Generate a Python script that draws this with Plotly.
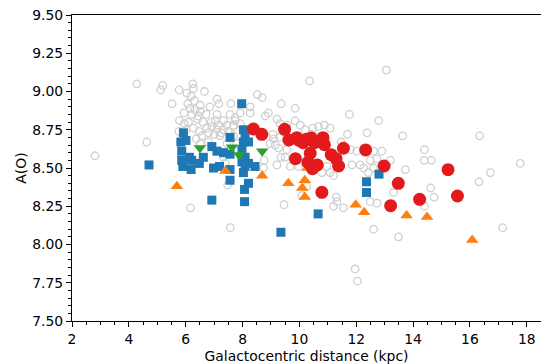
import plotly.graph_objects as go

# ---- data ----
gray_x = [4.28, 5.19, 5.12, 5.77, 6.25, 6.27, 6.04, 6.66, 6.19, 6.31, 6.07, 5.52, 7.10, 7.17, 7.59,
          6.51, 6.15, 6.33, 5.94, 6.21, 6.51, 6.72, 7.10, 7.56, 5.78, 6.10, 6.41, 7.05, 7.33, 7.74,
          5.76, 6.01, 6.27, 6.48, 6.74, 6.92, 7.15, 7.45, 7.68, 6.37, 6.57, 6.80, 7.10, 7.33, 7.21,
          7.68, 4.63, 2.81, 7.48, 6.17, 7.57, 6.51, 6.80, 7.45, 7.80, 7.33, 7.39,
          10.36, 13.06, 8.52, 8.69, 9.36, 9.85, 8.27, 8.27, 7.92, 7.74, 7.92, 7.68, 8.91, 8.80,
          9.21, 9.32, 9.56, 9.85, 10.03, 10.20, 10.48, 10.67, 10.88, 11.08, 10.44, 9.07, 9.09, 9.32,
          8.97, 9.15, 9.26, 9.56, 9.50, 9.35, 9.21, 9.68, 9.97, 8.76, 8.74, 11.76, 11.69, 12.38,
          12.79, 13.63, 11.47, 11.79, 12.02, 12.61, 12.90, 13.20, 12.73, 12.49, 12.14, 11.85, 12.26,
          12.61, 12.43, 13.73, 10.97, 11.08, 11.20, 10.79, 10.26, 10.09, 11.30, 11.32, 11.20, 9.46,
          12.49, 12.73, 13.31, 12.61, 13.49, 11.55, 16.34, 14.40, 14.39, 14.64, 17.77, 16.72, 16.32,
          14.62, 14.74, 14.40, 17.15, 11.96, 12.04,
          6.90, 7.00, 7.25, 6.60, 6.85, 7.50, 5.95, 6.45]
gray_y = [9.05, 9.04, 9.01, 9.01, 9.05, 9.02, 8.99, 9.00, 8.97, 8.94, 8.92, 8.92, 8.95, 8.92, 8.92,
          8.91, 8.89, 8.88, 8.86, 8.85, 8.87, 8.85, 8.85, 8.85, 8.81, 8.80, 8.82, 8.81, 8.81, 8.81,
          8.74, 8.75, 8.76, 8.74, 8.76, 8.77, 8.78, 8.78, 8.77, 8.69, 8.71, 8.73, 8.75, 8.75, 8.71,
          8.71, 8.67, 8.58, 8.39, 8.24, 8.11, 8.66, 8.67, 8.66, 8.66, 8.57, 8.53,
          9.07, 9.14, 8.98, 8.96, 8.92, 8.89, 8.90, 8.86, 8.86, 8.83, 8.79, 8.78, 8.86, 8.84,
          8.82, 8.79, 8.78, 8.81, 8.78, 8.75, 8.76, 8.77, 8.78, 8.76, 8.72, 8.72, 8.69, 8.70,
          8.66, 8.65, 8.63, 8.62, 8.57, 8.57, 8.52, 8.51, 8.51, 8.55, 8.50, 8.85, 8.72, 8.73,
          8.81, 8.71, 8.67, 8.62, 8.61, 8.61, 8.61, 8.55, 8.56, 8.55, 8.52, 8.52, 8.50,
          8.50, 8.47, 8.49, 8.51, 8.47, 8.45, 8.47, 8.38, 8.32, 8.31, 8.28, 8.25, 8.26,
          8.28, 8.27, 8.34, 8.10, 8.05, 8.24, 8.71, 8.62, 8.55, 8.55, 8.53, 8.47, 8.41,
          8.37, 8.31, 8.25, 8.11, 7.84, 7.76,
          8.80, 8.72, 8.73, 8.80, 8.90, 8.74, 8.79, 8.84]

blue_x = [5.92, 5.83, 6.01, 6.92, 7.10, 5.86, 6.13, 6.21, 6.62, 6.48, 5.90, 5.86, 6.19, 6.98, 7.19,
          7.56, 7.56, 7.56, 7.33, 7.97, 7.56, 6.92, 4.71, 8.21, 8.07, 8.07, 8.03, 8.09, 8.03, 8.21,
          7.98, 8.09, 7.98, 8.09, 8.21, 8.03, 8.44, 9.35, 10.66, 12.36, 12.36, 12.80]
blue_y = [8.73, 8.67, 8.68, 8.64, 8.61, 8.61, 8.57, 8.55, 8.57, 8.53, 8.51, 8.55, 8.49, 8.50, 8.51,
          8.49, 8.70, 8.59, 8.60, 8.92, 8.42, 8.29, 8.52, 8.40, 8.36, 8.28, 8.75, 8.72, 8.67, 8.67,
          8.62, 8.57, 8.54, 8.51, 8.53, 8.47, 8.51, 8.08, 8.20, 8.41, 8.34, 8.46]

green_x = [6.50, 7.63, 7.88, 8.69]
green_y = [8.63, 8.635, 8.585, 8.61]

orange_x = [5.69, 7.39, 8.69, 9.61, 10.29, 10.19, 10.10, 10.19, 11.98, 12.28, 13.77, 14.49, 16.08]
orange_y = [8.38, 8.48, 8.45, 8.40, 8.50, 8.42, 8.37, 8.31, 8.26, 8.21, 8.19, 8.18, 8.03]

red_x = [8.38, 8.68, 9.48, 9.63, 9.91, 9.99, 10.13, 10.25, 10.42, 10.38, 10.53, 10.83, 10.88, 9.86,
         10.30, 10.63, 10.46, 11.12, 11.29, 11.55, 11.38, 12.33, 12.98, 10.79, 13.48, 13.21, 15.23,
         14.23, 15.56]
red_y = [8.755, 8.72, 8.753, 8.683, 8.698, 8.681, 8.665, 8.688, 8.696, 8.596, 8.665, 8.698, 8.652,
         8.561, 8.537, 8.52, 8.495, 8.587, 8.561, 8.629, 8.513, 8.618, 8.513, 8.341, 8.40, 8.254,
         8.489, 8.295, 8.317]

x_ticks = [2, 4, 6, 8, 10, 12, 14, 16, 18]
y_ticks = [7.50, 7.75, 8.00, 8.25, 8.50, 8.75, 9.00, 9.25, 9.50]

FONT = "DejaVu Sans"
fig = go.Figure()
fig.add_trace(go.Scatter(x=gray_x, y=gray_y, mode="markers",
                         marker=dict(symbol="circle-open", size=7.5, color="#cfcfcf",
                                     line=dict(width=1.3, color="#cfcfcf"))))
fig.add_trace(go.Scatter(x=blue_x, y=blue_y, mode="markers",
                         marker=dict(symbol="square", size=9, color="#1f77b4", line=dict(width=0))))
fig.add_trace(go.Scatter(x=green_x, y=green_y, mode="markers",
                         marker=dict(symbol="triangle-down", size=11, color="#2ca02c", line=dict(width=0))))
fig.add_trace(go.Scatter(x=orange_x, y=orange_y, mode="markers",
                         marker=dict(symbol="triangle-up", size=11, color="#ff7f0e", line=dict(width=0))))
fig.add_trace(go.Scatter(x=red_x, y=red_y, mode="markers",
                         marker=dict(symbol="circle", size=13, color="#e31a1c", line=dict(width=0))))

axis_common = dict(showgrid=False, zeroline=False, showline=True, linecolor="black", linewidth=1.1,
                   ticks="outside", ticklen=5, tickwidth=1.1, tickcolor="black",
                   tickfont=dict(family=FONT, size=13.9, color="black"))
fig.update_xaxes(range=[2, 18.5], tickvals=x_ticks, ticktext=[str(v) for v in x_ticks],
                 mirror=True,
                 minor=dict(ticks="outside", dtick=0.5, ticklen=3, tickwidth=0.9, tickcolor="black"),
                 title=dict(text="Galactocentric distance (kpc)", font=dict(family=FONT, size=13.9, color="black"),
                            standoff=5),
                 **axis_common)
fig.update_yaxes(range=[7.5, 9.5], tickvals=y_ticks, ticktext=[f"{v:.2f}" for v in y_ticks],
                 minor=dict(ticks="outside", dtick=0.05, ticklen=3, tickwidth=0.9, tickcolor="black"),
                 title=dict(text="A(O)", font=dict(family=FONT, size=13.9, color="black"), standoff=2),
                 **axis_common)
fig.update_layout(width=541, height=364, margin=dict(l=72, r=0, t=15, b=43),
                  paper_bgcolor="white", plot_bgcolor="white", showlegend=False)
fig.write_html("out.html")
